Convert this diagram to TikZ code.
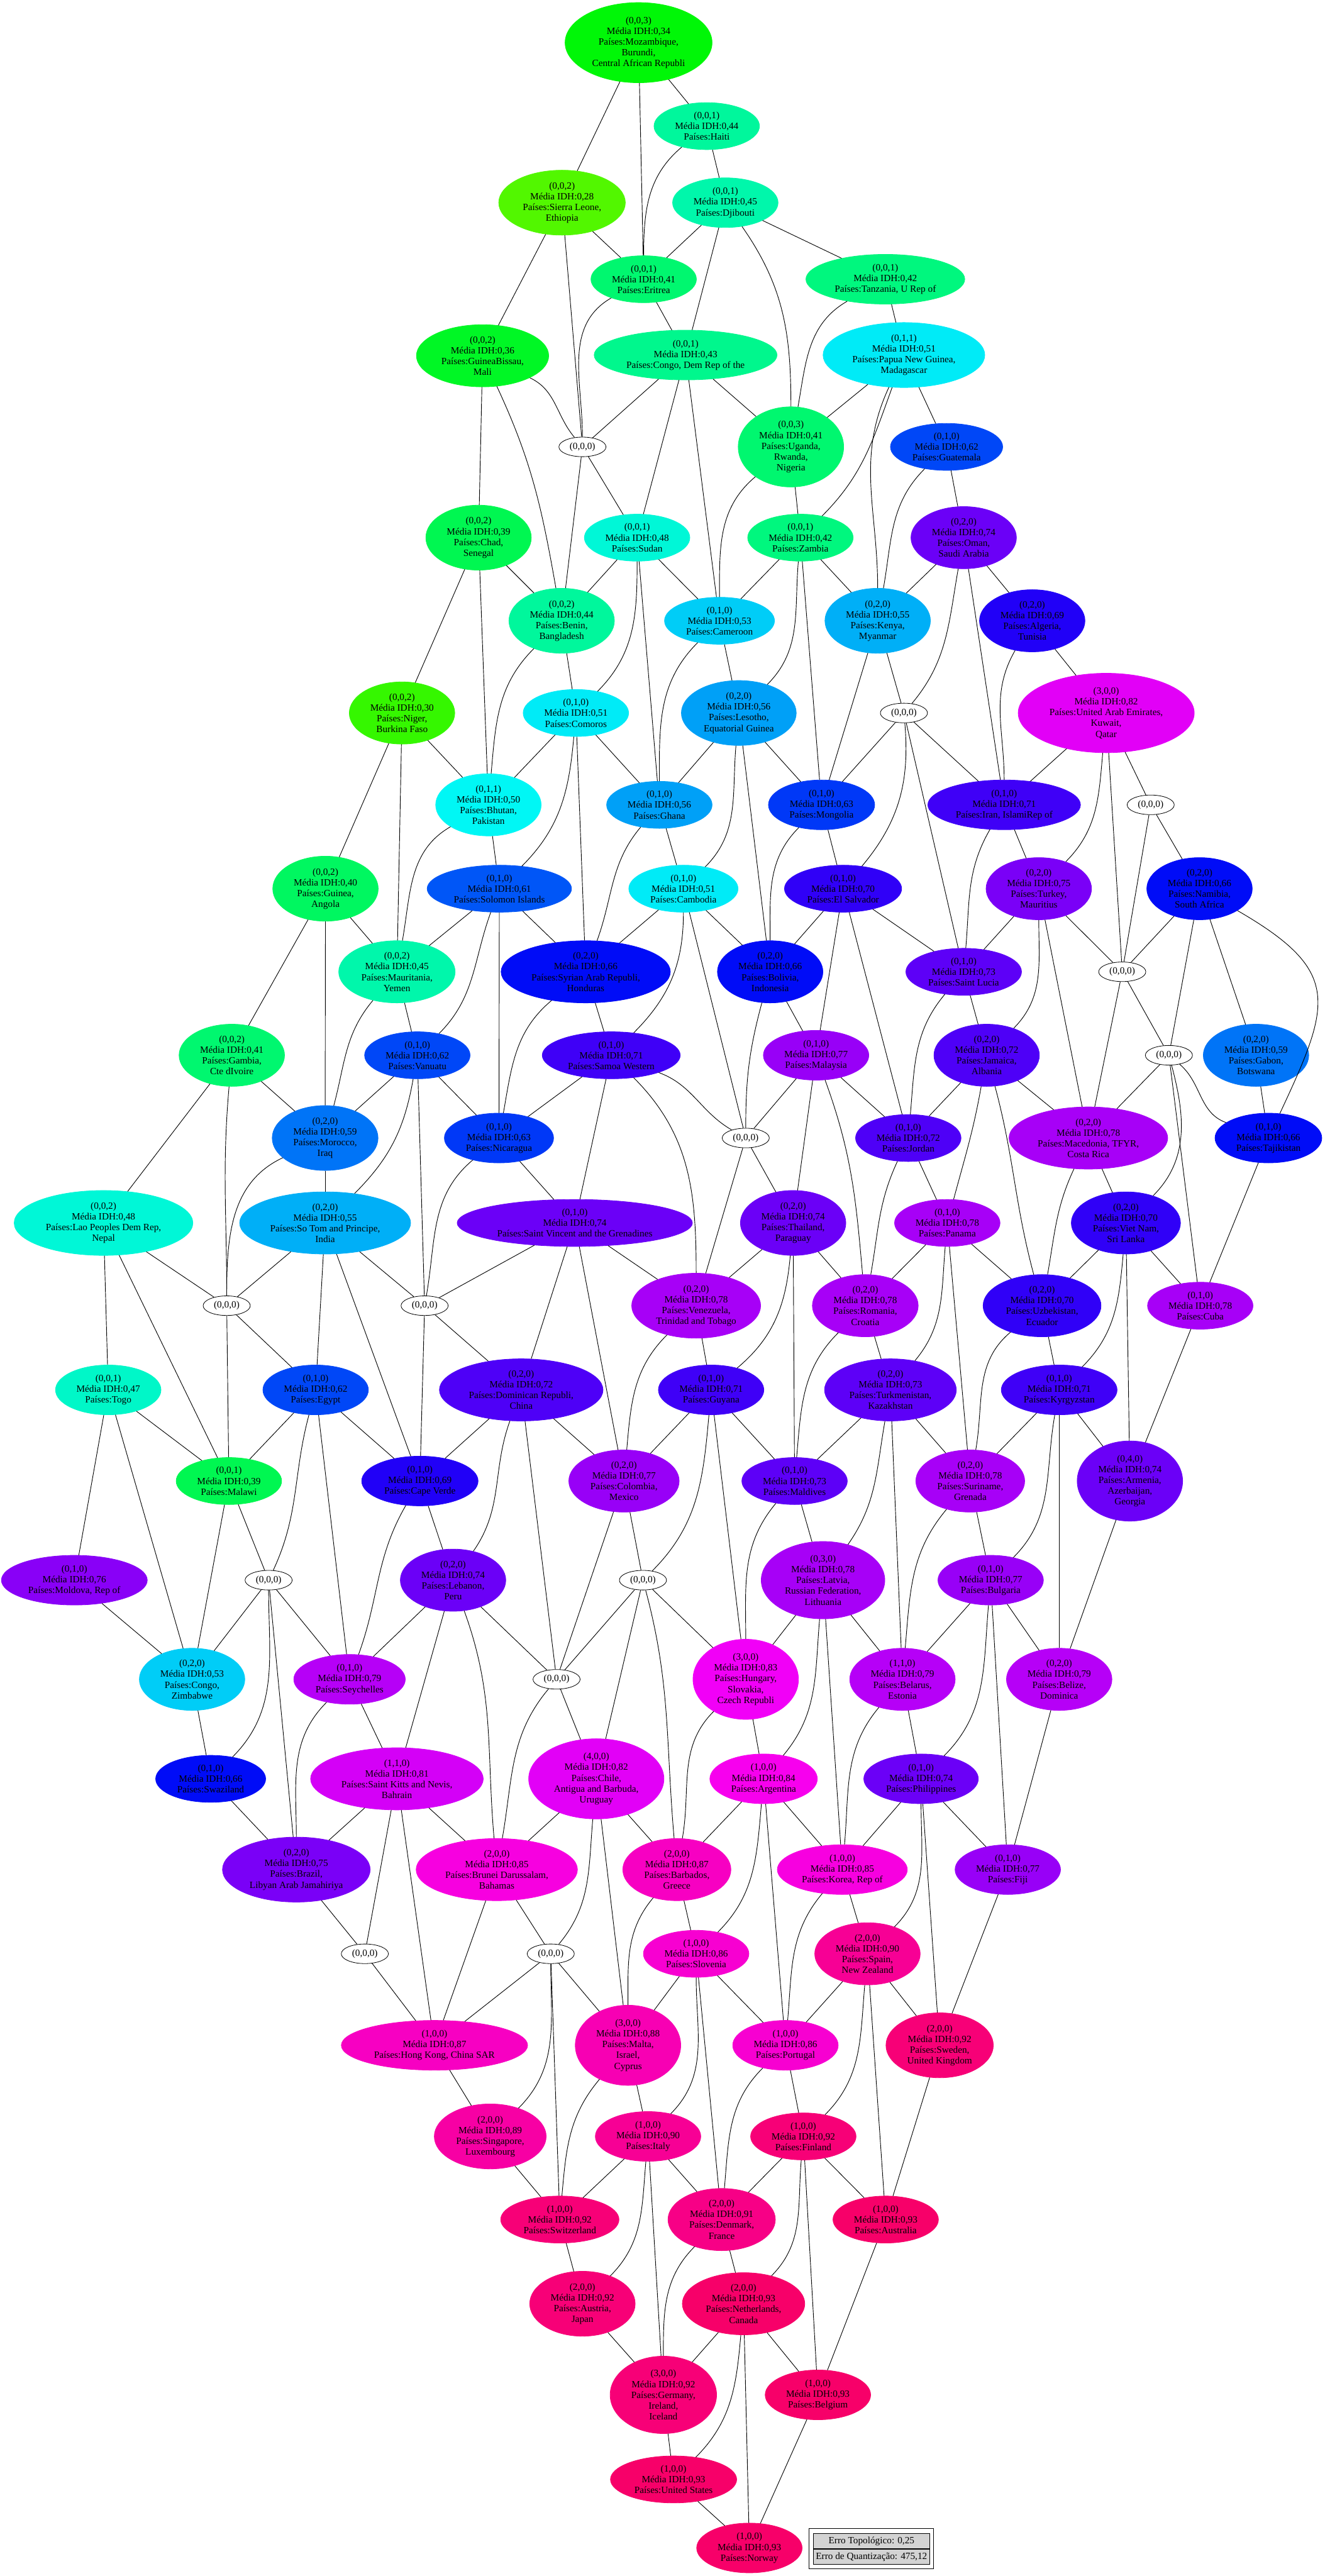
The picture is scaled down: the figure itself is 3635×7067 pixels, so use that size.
\documentclass[tikz,border=0pt]{standalone}
\usepackage{fontspec}
\setmainfont{Liberation Serif}
\usetikzlibrary{shapes.geometric,fit}
\newcommand\ND[5]{\pgfmathsetmacro\hh{(100+(#4-0.28)*361)/360}%
  \edef\mkconv{\noexpand\convertcolorspec{hsb}{\hh,1,0.97}{rgb}\noexpand\rgbspec}\mkconv
  \edef\mkcol{\noexpand\definecolor{nc}{rgb}{\rgbspec}}\mkcol
  \node[nd,fill=nc,draw=nc] (#1) at (#2,-#3) {#5};}
\newcommand\ZN[3]{\node[zn] (#1) at (#2,-#3) {(0,0,0)};}
\tikzset{
  nd/.style={ellipse, align=center, inner xsep=4.3pt, inner ysep=1.9pt, font=\fontsize{7.5}{8.4}\selectfont},
  zn/.style={ellipse, draw=black, line width=0.4pt, fill=white, inner xsep=3pt, inner ysep=2pt, font=\fontsize{7.5}{8.4}\selectfont},
  edge/.style={draw=black, line width=0.45pt},
  legcell/.style={draw=black, line width=0.4pt, fill={rgb,255:red,211;green,211;blue,211}, minimum width=3.2cm, minimum height=0.42cm, inner sep=0pt, font=\fontsize{7.5}{8.4}\selectfont},
  legbox/.style={draw=black, line width=0.5pt, inner xsep=0.1cm, inner ysep=0.12cm}
}
\begin{document}
\begin{tikzpicture}[x=0.01cm,y=0.01cm]
\fill[white] (0,0) rectangle (3635,-7067);
\useasboundingbox (0,0) rectangle (3635,-7067);
\ND{moz}{1752}{117}{0.34}{(0,0,3)\\Média IDH:0,34\\Países:Mozambique,\\Burundi,\\Central African Republi}
\ND{haiti}{1939}{346}{0.44}{(0,0,1)\\Média IDH:0,44\\Países:Haiti}
\ND{sierra}{1542}{556}{0.28}{(0,0,2)\\Média IDH:0,28\\Países:Sierra Leone,\\Ethiopia}
\ND{djib}{1990}{556}{0.45}{(0,0,1)\\Média IDH:0,45\\Países:Djibouti}
\ND{eritrea}{1766}{766}{0.41}{(0,0,1)\\Média IDH:0,41\\Países:Eritrea}
\ND{tanz}{2429}{766}{0.42}{(0,0,1)\\Média IDH:0,42\\Países:Tanzania, U Rep of}
\ND{guinb}{1324}{976}{0.36}{(0,0,2)\\Média IDH:0,36\\Países:GuineaBissau,\\Mali}
\ND{congodr}{1881}{974}{0.43}{(0,0,1)\\Média IDH:0,43\\Países:Congo, Dem Rep of the}
\ND{papua}{2480}{974}{0.51}{(0,1,1)\\Média IDH:0,51\\Países:Papua New Guinea,\\Madagascar}
\ZN{za}{1598}{1226}
\ND{uganda}{2170}{1226}{0.41}{(0,0,3)\\Média IDH:0,41\\Países:Uganda,\\Rwanda,\\Nigeria}
\ND{guatemala}{2597}{1226}{0.62}{(0,1,0)\\Média IDH:0,62\\Países:Guatemala}
\ND{chad}{1313}{1475}{0.39}{(0,0,2)\\Média IDH:0,39\\Países:Chad,\\Senegal}
\ND{sudan}{1748}{1475}{0.48}{(0,0,1)\\Média IDH:0,48\\Países:Sudan}
\ND{zambia}{2196}{1475}{0.42}{(0,0,1)\\Média IDH:0,42\\Países:Zambia}
\ND{oman}{2644}{1475}{0.74}{(0,2,0)\\Média IDH:0,74\\Países:Oman,\\Saudi Arabia}
\ND{benin}{1541}{1703}{0.44}{(0,0,2)\\Média IDH:0,44\\Países:Benin,\\Bangladesh}
\ND{cameroon}{1974}{1703}{0.53}{(0,1,0)\\Média IDH:0,53\\Países:Cameroon}
\ND{kenya}{2408}{1703}{0.55}{(0,2,0)\\Média IDH:0,55\\Países:Kenya,\\Myanmar}
\ND{algeria}{2832}{1703}{0.69}{(0,2,0)\\Média IDH:0,69\\Países:Algeria,\\Tunisia}
\ND{niger}{1103}{1956}{0.30}{(0,0,2)\\Média IDH:0,30\\Países:Niger,\\Burkina Faso}
\ND{comoros}{1580}{1956}{0.51}{(0,1,0)\\Média IDH:0,51\\Países:Comoros}
\ND{lesotho}{2027}{1956}{0.56}{(0,2,0)\\Média IDH:0,56\\Países:Lesotho,\\Equatorial Guinea}
\ZN{zc}{2480}{1956}
\ND{uae}{3035}{1956}{0.82}{(3,0,0)\\Média IDH:0,82\\Países:United Arab Emirates,\\Kuwait,\\Qatar}
\ND{bhutan}{1340}{2208}{0.50}{(0,1,1)\\Média IDH:0,50\\Países:Bhutan,\\Pakistan}
\ND{ghana}{1809}{2208}{0.56}{(0,1,0)\\Média IDH:0,56\\Países:Ghana}
\ND{mongolia}{2254}{2208}{0.63}{(0,1,0)\\Média IDH:0,63\\Países:Mongolia}
\ND{iran}{2755}{2208}{0.71}{(0,1,0)\\Média IDH:0,71\\Países:Iran, IslamiRep of}
\ZN{zd}{3157}{2208}
\ND{guinea}{893}{2438}{0.40}{(0,0,2)\\Média IDH:0,40\\Países:Guinea,\\Angola}
\ND{solomon}{1370}{2438}{0.61}{(0,1,0)\\Média IDH:0,61\\Países:Solomon Islands}
\ND{cambodia}{1875}{2438}{0.51}{(0,1,0)\\Média IDH:0,51\\Países:Cambodia}
\ND{elsalvador}{2313}{2438}{0.70}{(0,1,0)\\Média IDH:0,70\\Países:El Salvador}
\ND{turkey}{2850}{2438}{0.75}{(0,2,0)\\Média IDH:0,75\\Países:Turkey,\\Mauritius}
\ND{namibia}{3291}{2438}{0.66}{(0,2,0)\\Média IDH:0,66\\Países:Namibia,\\South Africa}
\ND{mauritania}{1089}{2666}{0.45}{(0,0,2)\\Média IDH:0,45\\Países:Mauritania,\\Yemen}
\ND{syria}{1607}{2666}{0.66}{(0,2,0)\\Média IDH:0,66\\Países:Syrian Arab Republi,\\Honduras}
\ND{bolivia}{2113}{2666}{0.66}{(0,2,0)\\Média IDH:0,66\\Países:Bolivia,\\Indonesia}
\ND{stlucia}{2644}{2666}{0.73}{(0,1,0)\\Média IDH:0,73\\Países:Saint Lucia}
\ZN{ze}{3079}{2666}
\ND{gambia}{636}{2895}{0.41}{(0,0,2)\\Média IDH:0,41\\Países:Gambia,\\Cte dIvoire}
\ND{vanuatu}{1145}{2895}{0.62}{(0,1,0)\\Média IDH:0,62\\Países:Vanuatu}
\ND{samoa}{1677}{2895}{0.71}{(0,1,0)\\Média IDH:0,71\\Países:Samoa Western}
\ND{malaysia}{2239}{2895}{0.77}{(0,1,0)\\Média IDH:0,77\\Países:Malaysia}
\ND{jamaica}{2707}{2895}{0.72}{(0,2,0)\\Média IDH:0,72\\Países:Jamaica,\\Albania}
\ZN{zf}{3207}{2895}
\ND{gabon}{3446}{2895}{0.59}{(0,2,0)\\Média IDH:0,59\\Países:Gabon,\\Botswana}
\ND{morocco}{892}{3122}{0.59}{(0,2,0)\\Média IDH:0,59\\Países:Morocco,\\Iraq}
\ND{nicaragua}{1369}{3122}{0.63}{(0,1,0)\\Média IDH:0,63\\Países:Nicaragua}
\ZN{zb}{2046}{3122}
\ND{jordan}{2492}{3122}{0.72}{(0,1,0)\\Média IDH:0,72\\Países:Jordan}
\ND{macedonia}{2986}{3122}{0.78}{(0,2,0)\\Média IDH:0,78\\Países:Macedonia, TFYR,\\Costa Rica}
\ND{tajik}{3480}{3122}{0.66}{(0,1,0)\\Média IDH:0,66\\Países:Tajikistan}
\ND{lao}{284}{3355}{0.48}{(0,0,2)\\Média IDH:0,48\\Países:Lao Peoples Dem Rep,\\Nepal}
\ND{sotom}{892}{3355}{0.55}{(0,2,0)\\Média IDH:0,55\\Países:So Tom and Principe,\\India}
\ND{stvincent}{1577}{3355}{0.74}{(0,1,0)\\Média IDH:0,74\\Países:Saint Vincent and the Grenadines}
\ND{thailand}{2176}{3355}{0.74}{(0,2,0)\\Média IDH:0,74\\Países:Thailand,\\Paraguay}
\ND{panama}{2599}{3355}{0.78}{(0,1,0)\\Média IDH:0,78\\Países:Panama}
\ND{vietnam}{3089}{3355}{0.70}{(0,2,0)\\Média IDH:0,70\\Países:Viet Nam,\\Sri Lanka}
\ZN{zi}{622}{3582}
\ZN{zj}{1165}{3582}
\ND{venezuela}{1910}{3582}{0.78}{(0,2,0)\\Média IDH:0,78\\Países:Venezuela,\\Trinidad and Tobago}
\ND{romania}{2374}{3582}{0.78}{(0,2,0)\\Média IDH:0,78\\Países:Romania,\\Croatia}
\ND{uzbek}{2859}{3582}{0.70}{(0,2,0)\\Média IDH:0,70\\Países:Uzbekistan,\\Ecuador}
\ND{cuba}{3293}{3582}{0.78}{(0,1,0)\\Média IDH:0,78\\Países:Cuba}
\ND{togo}{297}{3813}{0.47}{(0,0,1)\\Média IDH:0,47\\Países:Togo}
\ND{egypt}{866}{3813}{0.62}{(0,1,0)\\Média IDH:0,62\\Países:Egypt}
\ND{dominican}{1430}{3813}{0.72}{(0,2,0)\\Média IDH:0,72\\Países:Dominican Republi,\\China}
\ND{guyana}{1951}{3813}{0.71}{(0,1,0)\\Média IDH:0,71\\Países:Guyana}
\ND{turkmen}{2443}{3813}{0.73}{(0,2,0)\\Média IDH:0,73\\Países:Turkmenistan,\\Kazakhstan}
\ND{kyrgyz}{2906}{3813}{0.71}{(0,1,0)\\Média IDH:0,71\\Países:Kyrgyzstan}
\ND{malawi}{628}{4063}{0.39}{(0,0,1)\\Média IDH:0,39\\Países:Malawi}
\ND{capeverde}{1152}{4063}{0.69}{(0,1,0)\\Média IDH:0,69\\Países:Cape Verde}
\ND{colombia}{1712}{4063}{0.77}{(0,2,0)\\Média IDH:0,77\\Países:Colombia,\\Mexico}
\ND{maldives}{2180}{4063}{0.73}{(0,1,0)\\Média IDH:0,73\\Países:Maldives}
\ND{suriname}{2662}{4063}{0.78}{(0,2,0)\\Média IDH:0,78\\Países:Suriname,\\Grenada}
\ND{armenia}{3100}{4063}{0.74}{(0,4,0)\\Média IDH:0,74\\Países:Armenia,\\Azerbaijan,\\Georgia}
\ND{moldova}{204}{4335}{0.76}{(0,1,0)\\Média IDH:0,76\\Países:Moldova, Rep of}
\ZN{zk}{737}{4335}
\ND{lebanon}{1243}{4335}{0.74}{(0,2,0)\\Média IDH:0,74\\Países:Lebanon,\\Peru}
\ZN{zg}{1764}{4335}
\ND{latvia}{2258}{4335}{0.78}{(0,3,0)\\Média IDH:0,78\\Países:Latvia,\\Russian Federation,\\Lithuania}
\ND{bulgaria}{2718}{4335}{0.77}{(0,1,0)\\Média IDH:0,77\\Países:Bulgaria}
\ND{congoz}{527}{4607}{0.53}{(0,2,0)\\Média IDH:0,53\\Países:Congo,\\Zimbabwe}
\ND{seychelles}{959}{4607}{0.79}{(0,1,0)\\Média IDH:0,79\\Países:Seychelles}
\ZN{zh}{1527}{4607}
\ND{hungary}{2046}{4607}{0.83}{(3,0,0)\\Média IDH:0,83\\Países:Hungary,\\Slovakia,\\Czech Republi}
\ND{belarus}{2476}{4607}{0.79}{(1,1,0)\\Média IDH:0,79\\Países:Belarus,\\Estonia}
\ND{belize}{2906}{4607}{0.79}{(0,2,0)\\Média IDH:0,79\\Países:Belize,\\Dominica}
\ND{swaziland}{578}{4880}{0.66}{(0,1,0)\\Média IDH:0,66\\Países:Swaziland}
\ND{stkitts}{1089}{4880}{0.81}{(1,1,0)\\Média IDH:0,81\\Países:Saint Kitts and Nevis,\\Bahrain}
\ND{chile}{1636}{4880}{0.82}{(4,0,0)\\Média IDH:0,82\\Países:Chile,\\Antigua and Barbuda,\\Uruguay}
\ND{argentina}{2095}{4880}{0.84}{(1,0,0)\\Média IDH:0,84\\Países:Argentina}
\ND{philippines}{2527}{4880}{0.74}{(0,1,0)\\Média IDH:0,74\\Países:Philippines}
\ND{brazil}{813}{5129}{0.75}{(0,2,0)\\Média IDH:0,75\\Países:Brazil,\\Libyan Arab Jamahiriya}
\ND{brunei}{1363}{5129}{0.85}{(2,0,0)\\Média IDH:0,85\\Países:Brunei Darussalam,\\Bahamas}
\ND{barbados}{1857}{5129}{0.87}{(2,0,0)\\Média IDH:0,87\\Países:Barbados,\\Greece}
\ND{korea}{2311}{5129}{0.85}{(1,0,0)\\Média IDH:0,85\\Países:Korea, Rep of}
\ND{fiji}{2765}{5129}{0.77}{(0,1,0)\\Média IDH:0,77\\Países:Fiji}
\ZN{zl}{1001}{5360}
\ZN{zm}{1511}{5360}
\ND{slovenia}{1910}{5360}{0.86}{(1,0,0)\\Média IDH:0,86\\Países:Slovenia}
\ND{spain}{2380}{5360}{0.90}{(2,0,0)\\Média IDH:0,90\\Países:Spain,\\New Zealand}
\ND{hongkong}{1192}{5611}{0.87}{(1,0,0)\\Média IDH:0,87\\Países:Hong Kong, China SAR}
\ND{malta}{1723}{5611}{0.88}{(3,0,0)\\Média IDH:0,88\\Países:Malta,\\Israel,\\Cyprus}
\ND{portugal}{2155}{5611}{0.86}{(1,0,0)\\Média IDH:0,86\\Países:Portugal}
\ND{sweden}{2578}{5611}{0.92}{(2,0,0)\\Média IDH:0,92\\Países:Sweden,\\United Kingdom}
\ND{singapore}{1345}{5861}{0.89}{(2,0,0)\\Média IDH:0,89\\Países:Singapore,\\Luxembourg}
\ND{italy}{1778}{5861}{0.90}{(1,0,0)\\Média IDH:0,90\\Países:Italy}
\ND{finland}{2204}{5861}{0.92}{(1,0,0)\\Média IDH:0,92\\Países:Finland}
\ND{switzerland}{1536}{6089}{0.92}{(1,0,0)\\Média IDH:0,92\\Países:Switzerland}
\ND{denmark}{1980}{6089}{0.91}{(2,0,0)\\Média IDH:0,91\\Países:Denmark,\\France}
\ND{australia}{2430}{6089}{0.93}{(1,0,0)\\Média IDH:0,93\\Países:Australia}
\ND{austria}{1598}{6320}{0.92}{(2,0,0)\\Média IDH:0,92\\Países:Austria,\\Japan}
\ND{netherlands}{2040}{6320}{0.93}{(2,0,0)\\Média IDH:0,93\\Países:Netherlands,\\Canada}
\ND{germany}{1820}{6570}{0.92}{(3,0,0)\\Média IDH:0,92\\Países:Germany,\\Ireland,\\Iceland}
\ND{belgium}{2244}{6570}{0.93}{(1,0,0)\\Média IDH:0,93\\Países:Belgium}
\ND{us}{1848}{6802}{0.93}{(1,0,0)\\Média IDH:0,93\\Países:United States}
\ND{norway}{2056}{6990}{0.93}{(1,0,0)\\Média IDH:0,93\\Países:Norway}
% straight connectors
\foreach \a/\b in {moz/sierra, moz/eritrea, moz/haiti, haiti/djib, sierra/eritrea, sierra/guinb, sierra/za, djib/eritrea, djib/congodr, djib/tanz, eritrea/congodr, tanz/papua, guinb/chad, congodr/za, congodr/sudan, congodr/cameroon, congodr/uganda, papua/uganda, papua/guatemala, za/sudan, za/benin, uganda/zambia, chad/benin, chad/niger, chad/bhutan, sudan/benin, sudan/cameroon, sudan/ghana, zambia/cameroon, zambia/kenya, zambia/mongolia, benin/comoros, cameroon/lesotho, kenya/mongolia, kenya/zc, guatemala/oman, oman/kenya, oman/algeria, oman/iran, algeria/uae,
zc/mongolia, zc/iran, zc/stlucia, uae/iran, uae/ze, uae/zd, zd/namibia, zd/ze, iran/turkey, turkey/stlucia, turkey/macedonia, turkey/ze, namibia/ze, namibia/zf, namibia/gabon, ze/macedonia, ze/zf, stlucia/jamaica, elsalvador/stlucia, elsalvador/jordan, jamaica/jordan, jamaica/macedonia, macedonia/vietnam, zf/macedonia, zf/cuba, gabon/tajik, tajik/cuba, jordan/panama, panama/romania, panama/suriname, panama/uzbek, vietnam/uzbek, vietnam/armenia, vietnam/cuba,
uzbek/kyrgyz, kyrgyz/suriname, kyrgyz/armenia, kyrgyz/belize, cuba/armenia, turkmen/suriname, turkmen/belarus, romania/turkmen, suriname/bulgaria, bulgaria/belarus, bulgaria/belize, bulgaria/fiji, armenia/belize, belarus/philippines, belize/fiji, philippines/korea, philippines/sweden, philippines/fiji, fiji/sweden, spain/sweden, sweden/australia, spain/australia,
zm/hongkong, brunei/zm, brunei/hongkong, zm/switzerland, zm/malta, chile/malta, barbados/slovenia, argentina/portugal, korea/spain, spain/portugal, slovenia/malta, slovenia/denmark, slovenia/portugal, hongkong/singapore, malta/italy, portugal/finland, singapore/switzerland, italy/switzerland, italy/denmark, italy/germany, finland/denmark, finland/australia, finland/belgium, switzerland/austria, denmark/netherlands, australia/belgium, austria/germany, netherlands/germany, netherlands/belgium, netherlands/norway, germany/us, us/norway, belgium/norway,
brazil/zl, stkitts/zl, stkitts/hongkong, zl/hongkong,
lao/zi, sotom/zi, zi/malawi, zi/egypt, lao/togo, lao/malawi, togo/malawi, togo/moldova, togo/congoz, egypt/malawi, egypt/seychelles, egypt/capeverde, sotom/egypt, sotom/capeverde, sotom/zj, vanuatu/zj, zj/dominican, zj/capeverde, stvincent/zj, capeverde/lebanon, zk/congoz, zk/seychelles, zk/brazil, malawi/zk, malawi/congoz, moldova/congoz, congoz/swaziland, swaziland/brazil, seychelles/lebanon, seychelles/stkitts, lebanon/stkitts, stkitts/brazil, stkitts/brunei,
stvincent/dominican, stvincent/colombia, venezuela/guyana, dominican/capeverde, dominican/zh, dominican/colombia, guyana/colombia, guyana/hungary, guyana/maldives, thailand/maldives, maldives/turkmen, maldives/latvia, latvia/hungary, latvia/korea, latvia/belarus, lebanon/zh, colombia/zh, colombia/zg, zg/zh, zg/chile, zg/hungary, zh/chile, hungary/argentina, chile/brunei, chile/barbados, argentina/barbados, argentina/korea,
thailand/venezuela, stvincent/venezuela, zb/venezuela,
niger/bhutan, comoros/bhutan, comoros/ghana, comoros/syria, bhutan/solomon, lesotho/ghana, lesotho/mongolia, lesotho/bolivia, ghana/cambodia, mongolia/elsalvador, solomon/syria, solomon/nicaragua, mauritania/solomon, cambodia/syria, cambodia/bolivia, cambodia/zb, elsalvador/bolivia, elsalvador/malaysia, syria/samoa, bolivia/malaysia, vanuatu/nicaragua, samoa/nicaragua, samoa/stvincent, malaysia/zb, malaysia/thailand, malaysia/jordan, nicaragua/stvincent, zb/thailand, thailand/romania,
niger/guinea, niger/mauritania, guinea/gambia, guinea/morocco, guinea/mauritania, mauritania/vanuatu, gambia/morocco, gambia/lao, vanuatu/morocco, morocco/sotom}
  \draw[edge] (\a) -- (\b);
% curved connectors
\foreach \a/\b/\o/\i in {haiti/eritrea/-140/90, eritrea/za/-150/90, guinb/za/-25/130, guinb/benin/-65/100, djib/uganda/-55/90, tanz/uganda/-150/80, papua/zambia/-110/45, papua/kenya/-115/90, uganda/cameroon/-140/90, sudan/comoros/-90/45, zambia/lesotho/-95/45, benin/bhutan/-135/85, cameroon/ghana/-135/90, guatemala/kenya/-135/80, oman/zc/-100/50, algeria/iran/-120/90, zc/elsalvador/-85/50, uae/turkey/-95/45, iran/stlucia/-120/85, turkey/jamaica/-90/45, stlucia/jordan/-130/85, jamaica/panama/-100/75, jamaica/uzbek/-75/105, macedonia/uzbek/-115/80, zf/tajik/-40/160, zf/vietnam/-75/45, jordan/romania/-115/80, panama/turkmen/-95/50, vietnam/kyrgyz/-95/45, uzbek/suriname/-140/80, kyrgyz/bulgaria/-100/45, suriname/belarus/-130/85, bulgaria/philippines/-95/45, turkmen/latvia/-100/55, belarus/korea/-130/85, philippines/spain/-90/45, thailand/guyana/-95/40, romania/maldives/-135/85, maldives/hungary/-130/90, venezuela/colombia/-135/85, guyana/zg/-95/45, dominican/lebanon/-110/55, latvia/argentina/-95/50, zg/barbados/-75/95, zh/brunei/-130/80, lebanon/brunei/-70/95, hungary/barbados/-135/80, chile/zm/-95/50, barbados/malta/-130/90, argentina/slovenia/-95/45, korea/portugal/-130/85, spain/finland/-95/45, zm/singapore/-90/45, slovenia/italy/-90/45, malta/switzerland/-130/85, portugal/denmark/-135/85, italy/austria/-95/45, finland/netherlands/-95/45, denmark/germany/-135/90, netherlands/us/-95/45, egypt/zk/-105/65, capeverde/seychelles/-120/70, zk/swaziland/-90/45, seychelles/brazil/-135/90, gambia/zi/-95/90, morocco/zi/-155/90, mauritania/morocco/-130/75, bhutan/mauritania/-150/80, comoros/solomon/-95/45, ghana/syria/-130/70, lesotho/cambodia/-95/45, mongolia/bolivia/-135/90, solomon/vanuatu/-110/45, cambodia/samoa/-90/45, bolivia/zb/-105/90, syria/nicaragua/-140/80, samoa/venezuela/-45/90, samoa/zb/-20/150, malaysia/romania/-70/95, vanuatu/sotom/-100/45, nicaragua/zj/-140/80}
  \draw[edge] (\a) to[out=\o,in=\i] (\b);
\draw[edge] (namibia) to[out=-30,in=65,looseness=1.5] (tajik);
% legend
\node[legcell] (lg1) at (2391,-6971) {Erro Topológico: 0,25};
\node[legcell] (lg2) at (2391,-7014) {Erro de Quantização: 475,12};
\node[legbox, fit=(lg1)(lg2)] (lgbox) {};
\end{tikzpicture}
\end{document}
